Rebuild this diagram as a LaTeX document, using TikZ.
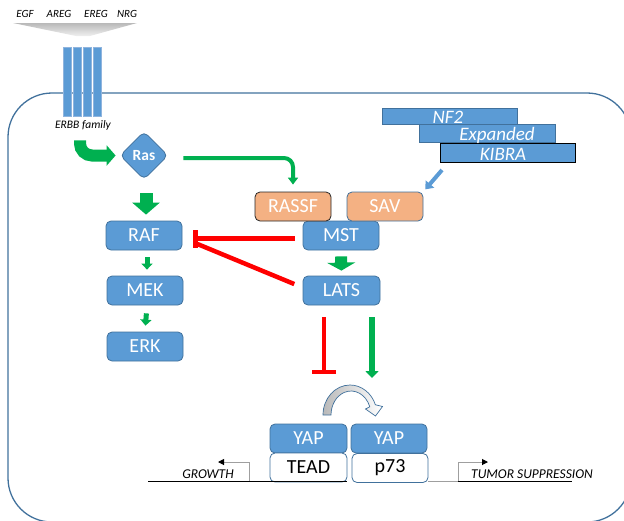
\documentclass[tikz,border=0pt]{standalone}
\usepackage{fontspec}
\setmainfont{Carlito}
\usetikzlibrary{arrows.meta,shapes.geometric,calc}
\definecolor{boxblue}{HTML}{5B9BD5}
\definecolor{boxedge}{HTML}{41719C}
\definecolor{recedge}{HTML}{8FB4DE}
\definecolor{actgreen}{HTML}{00B050}
\definecolor{inhred}{HTML}{FF0000}
\definecolor{peach}{HTML}{F4B183}
\tikzset{
  kinase/.style={draw=boxedge, fill=boxblue, rounded corners=5pt, line width=0.8pt,
    minimum width=76pt, minimum height=29pt, inner sep=0pt, text=white,
    font=\fontsize{20}{20}\selectfont},
  adaptor/.style={kinase, fill=peach},
  factor/.style={kinase, fill=white, text=black},
  bar3/.style={draw=boxedge, fill=boxblue, line width=0.8pt, inner sep=0pt,
    minimum height=16pt},
  upstream/.style={text=white, font=\fontsize{19}{19}\selectfont\itshape, anchor=base},
  ligand/.style={font=\fontsize{11}{11}\selectfont\itshape, anchor=base},
  outcome/.style={font=\fontsize{13.5}{13.5}\selectfont\itshape, anchor=base},
  receptor/.style={draw=recedge, fill=boxblue, line width=0.8pt},
  cell/.style={draw=boxedge, line width=1.3pt},
  gline/.style={draw=actgreen, line width=4pt, -{Triangle[length=7pt,width=10pt]}},
  gsmall/.style={draw=actgreen, line width=5pt, -{Triangle[length=6pt,width=11pt]}},
  gblock/.style={draw=actgreen, line width=13pt, -{Triangle[length=12pt,width=27pt]}},
  inhib/.style={draw=inhred, line width=4.5pt},
  tss/.style={draw=gray!75, line width=1pt, -{Triangle[length=6pt,width=6pt,color=black]}},
}
\begin{document}
\begin{tikzpicture}[x=1pt, y=-1pt]
\useasboundingbox (0,0) rectangle (624,520);

% cell membrane
\begin{scope}
  \clip (0,0) rectangle (624,520);
  \draw[cell, rounded corners=44pt] (8,93) rectangle (631,522);
\end{scope}

% ligands and their funnel
\node[ligand] (egf)  at (25,17)  {EGF};
\node[ligand] (areg) at (59,17)  {AREG};
\node[ligand] (ereg) at (96,17)  {EREG};
\node[ligand] (nrg)  at (127,17) {NRG};
\shade[top color=gray!55, bottom color=gray!12]
  (13,23) -- (137,23) -- (90,36) -- (76,36) -- cycle;

% ERBB receptors
\foreach \x in {63,73,83,93}
  \draw[receptor] (\x,47) rectangle ++(8,69);
\node[font=\fontsize{11.5}{11.5}\selectfont\itshape, anchor=base] (erbb) at (83,128) {ERBB family};

% Ras
\node[diamond, aspect=1, draw=boxedge, fill=boxblue, line width=0.8pt, rounded corners=5pt,
  minimum width=48pt, minimum height=48pt, inner sep=0pt, text=white,
  font=\fontsize{15.5}{15.5}\selectfont\bfseries] (ras) at (144,155.5) {Ras};

% MAPK cascade
\node[kinase] (raf) at (144,235.5) {RAF};
\node[kinase] (mek) at (145,290.5) {MEK};
\node[kinase] (erk) at (145,346.5) {ERK};

% Hippo core
\node[kinase] (mst)  at (341,235.5) {MST};
\node[kinase, minimum width=77pt] (lats) at (341.5,290.5) {LATS};
\node[adaptor, draw=black!85] (rassf) at (293,206.5) {RASSF};
\node[adaptor] (sav) at (385,206.5) {SAV};

% upstream regulators
\node[bar3, minimum width=135pt] (nf2) at (449.5,116.5) {};
\node[bar3, minimum width=136pt, minimum height=18pt] (expd) at (487,133) {};
\node[bar3, draw=black, minimum width=135pt, minimum height=19pt] (kibra) at (507.5,152.5) {};
\node[upstream] at (448,123) {NF2};
\node[upstream] at (497,140) {Expanded};
\node[upstream] at (503,160) {KIBRA};

% transcription complexes
\node[kinase, minimum width=77pt] (yapl) at (308.5,438.5) {YAP};
\node[kinase] (yapr) at (389,438.5) {YAP};
\node[factor, minimum width=77pt] (tead) at (308.5,467.5) {TEAD};
\node[factor] (p73) at (390,468) {p73};

% DNA and transcription start sites
\coordinate (tssL) at (249,481);
\coordinate (tssR) at (458,481);
\draw[black, line width=1pt] (148,481) -- (tead.south east |- tssL);
\draw[gray!75, line width=1pt] (p73.east |- tssR) -- (tssR);
\draw[black, line width=1pt] (tssR) -- (572,481);
\draw[tss] (tssL) -- ++(0,-19) -- ++(-31,0);
\draw[tss] (tssR) -- ++(0,-19) -- ++(30,0);
\node[outcome] (growth) at (208,478) {GROWTH};
\node[outcome] (supp) at (532,478) {TUMOR SUPPRESSION};

% activation arrows
\draw[draw=actgreen, line width=12pt, rounded corners=12pt,
  -{Triangle[length=9pt,width=20pt]}, shorten <=7pt, shorten >=4pt]
  (erbb.south -| 80,0) |- (ras.west);
\draw[gline, rounded corners=9pt, shorten <=15pt, shorten >=7pt]
  ($(ras.east)+(0,2.5)$) -| (rassf.north);
\draw[gblock, shorten <=13.5pt, shorten >=6pt] ($(ras.south)+(2,0)$) -- ($(raf.north)+(2,0)$);
\draw[gblock, line width=12pt, -{Triangle[length=8pt,width=28pt]}, shorten <=6pt, shorten >=5pt]
  (mst.south) -- (lats.north);
\draw[gsmall, shorten <=7pt, shorten >=6pt] ($(raf.south)+(3,0)$) -- ($(mek.north)+(2,0)$);
\draw[gsmall, shorten <=8pt, shorten >=6pt] ($(mek.south)+(2,0)$) -- (erk.north);
\coordinate (actEnd) at (372,378);
\draw[draw=actgreen, line width=5.5pt, -{Triangle[length=7pt,width=13pt]}, shorten <=12pt]
  (lats.south -| actEnd) -- (actEnd);
\coordinate (kibraTail) at (442,170);
\draw[draw=boxblue, line width=4pt, -{Triangle[length=7pt,width=11pt]}, shorten >=3pt]
  (kibraTail) -- (sav.north east);

% inhibition
\coordinate (rafBar) at (193,238.5);
\coordinate (rafBarLow) at (195,243);
\draw[inhib, -{Bar[width=18pt]}, shorten <=8pt] (mst.west |- rafBar) -- (rafBar);
\draw[inhib, shorten <=9pt] ($(lats.west)+(0,-3)$) -- (rafBarLow);
\coordinate (inhEnd) at (324,374);
\draw[inhib, -{Bar[width=24pt]}, shorten <=12pt] (lats.south -| inhEnd) -- (inhEnd);

% switch of YAP partner
\draw[draw=boxedge, line width=0.7pt, shading=axis, left color=gray!55, right color=white]
  (323,415) arc[start angle=180, end angle=340, x radius=27, y radius=30]
  -- (382.5,406.5) -- (375.5,416) -- (365.5,409)
  -- (369.8,406.8) arc[start angle=340, end angle=180, x radius=20, y radius=24]
  -- cycle;
\end{tikzpicture}
\end{document}
